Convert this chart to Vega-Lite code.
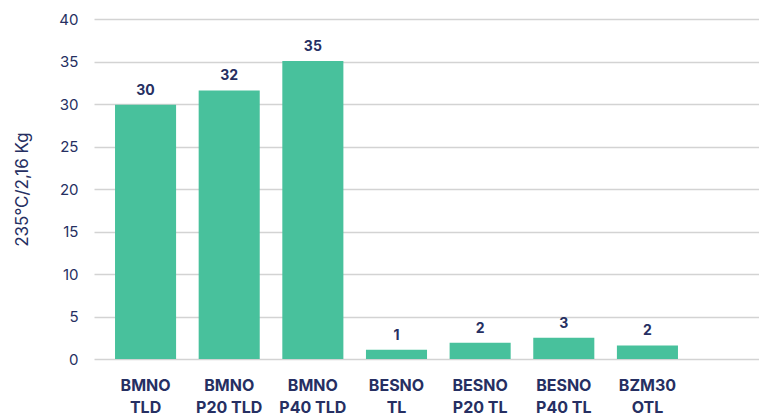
{
  "$schema": "https://vega.github.io/schema/vega-lite/v6.json",
  "width": 665,
  "height": 340,
  "autosize": "none",
  "padding": {"left": 94, "top": 19, "right": 0, "bottom": 57},
  "background": "white",
  "config": {
    "view": {"stroke": null},
    "font": "Inter"
  },
  "data": {
    "values": [
      {"cat": "BMNO TLD", "value": 29.9},
      {"cat": "BMNO P20 TLD", "value": 31.6},
      {"cat": "BMNO P40 TLD", "value": 35.05},
      {"cat": "BESNO TL", "value": 1.1},
      {"cat": "BESNO P20 TL", "value": 1.9},
      {"cat": "BESNO P40 TL", "value": 2.5},
      {"cat": "BZM30 OTL", "value": 1.6}
    ]
  },
  "encoding": {
    "x": {
      "field": "cat",
      "type": "nominal",
      "sort": null,
      "scale": {"paddingInner": 0.27, "paddingOuter": 0.61, "align": 0.206},
      "axis": {
        "title": null,
        "domain": false,
        "ticks": false,
        "labelAngle": 0,
        "labelFont": "Inter",
        "labelFontWeight": "bold",
        "labelFontSize": 16,
        "labelColor": "#262F62",
        "labelPadding": 18,
        "labelLineHeight": 22,
        "labelBaseline": "top",
        "labelExpr": "[substring(datum.label, 0, indexof(datum.label, ' ')), substring(datum.label, indexof(datum.label, ' ') + 1)]"
      }
    },
    "y": {
      "field": "value",
      "type": "quantitative",
      "scale": {"domain": [0, 40], "nice": false},
      "axis": {
        "title": "235°C/2,16 Kg",
        "titleFont": "Inter",
        "titleFontSize": 17,
        "titleFontWeight": "normal",
        "titleColor": "#262F62",
        "titlePadding": 27,
        "values": [0, 5, 10, 15, 20, 25, 30, 35, 40],
        "domain": false,
        "ticks": false,
        "labelFont": "Inter",
        "labelFontSize": 15,
        "labelColor": "#262F62",
        "labelPadding": 16,
        "grid": true,
        "gridColor": "#D3D3D3",
        "gridWidth": 1.5
      }
    }
  },
  "layer": [
    {
      "mark": {"type": "bar", "color": "#48C19C"}
    },
    {
      "mark": {
        "type": "text",
        "baseline": "bottom",
        "dy": -7,
        "font": "Inter",
        "fontWeight": "bold",
        "fontSize": 14,
        "color": "#262F62"
      },
      "encoding": {
        "text": {"field": "value", "type": "quantitative", "format": ".0f"}
      }
    }
  ]
}
